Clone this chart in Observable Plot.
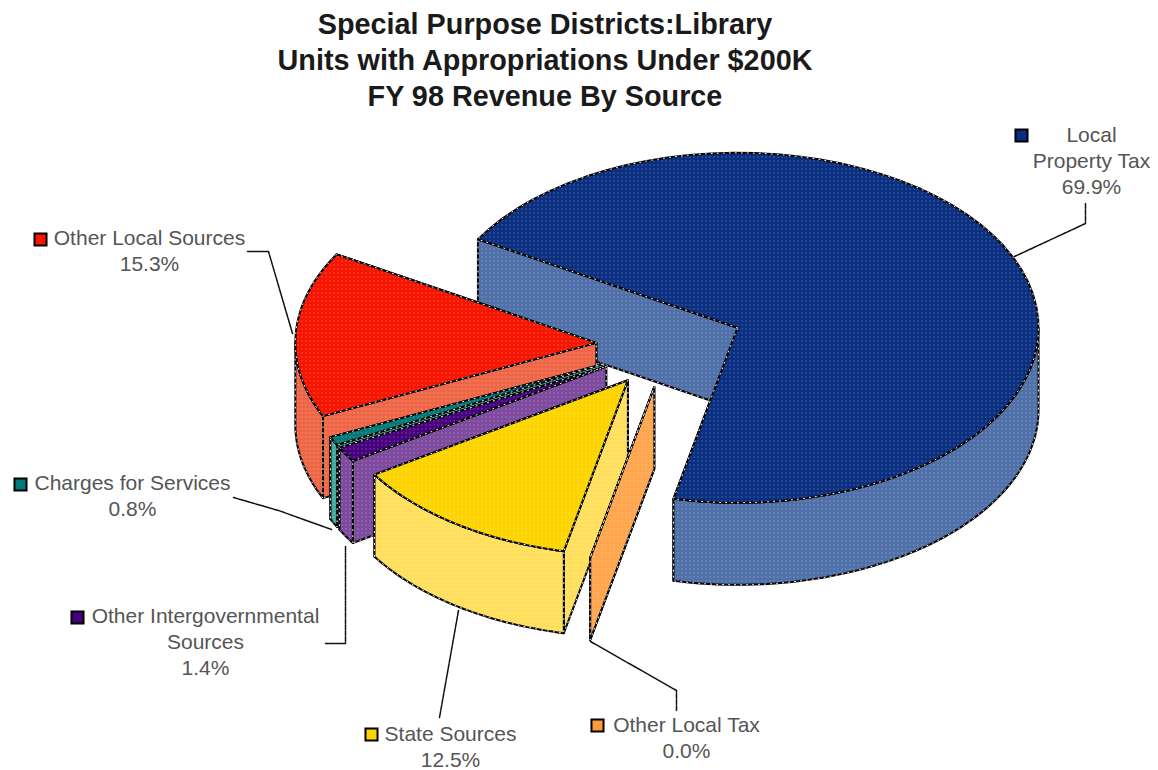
<!DOCTYPE html>
<html>
<head>
<meta charset="utf-8">
<script src="https://cdn.jsdelivr.net/npm/d3@7"></script>
<script src="https://cdn.jsdelivr.net/npm/@observablehq/plot@0.6"></script>
<style>
  html, body { margin: 0; padding: 0; background: #fff; overflow: hidden; }
  #title { width: 1090px; height: 115px; padding-top: 6px; box-sizing: border-box; text-align: center;
           font: bold 28.8px/36px "Liberation Sans", Arial, sans-serif; color: #1a1a1a; }
  #chart svg { display: block; }
</style>
</head>
<body>
<div id="title">Special Purpose Districts:Library<br>Units with Appropriations Under $200K<br>FY 98 Revenue By Source</div>
<div id="chart"></div>
<script>
// Revenue sources, clockwise from the start of the first slice
const sources = ["Local Property Tax", "Other Local Tax", "State Sources",
                 "Other Intergovernmental Sources", "Charges for Services", "Other Local Sources"];
const shares = [69.9, 0.0, 12.5, 1.4, 0.8, 15.3];
const labelLines = [["Local", "Property Tax"], ["Other Local Tax"], ["State Sources"],
                    ["Other Intergovernmental", "Sources"], ["Charges for Services"], ["Other Local Sources"]];
const topColors = ["#0a2f80", "#ff9a3c", "#fdd400", "#47007e", "#007a78", "#f81500"];
const wallColors = ["#4f70a8", "#ffa64f", "#ffdf5c", "#7d4a9e", "#3fa89c", "#ef6647"];

// Label block centre and swatch position for each source
const labelCentres = [[1091, 135], [686, 725], [450, 734], [205, 616], [132, 483], [149, 238]];
const swatchSpots = [[1021, 135], [597, 725], [371, 734], [77, 617], [20, 484], [40, 239]];
const leaderPaths = [
  [[1085, 203], [1085, 223], [1014, 256]],
  [[590, 641], [676, 690], [676, 711]],
  [[458, 610], [439, 717]],
  [[345, 546], [345, 643], [325, 643]],
  [[233, 497], [278, 510], [331, 529]],
  [[247, 251], [268, 251], [292, 333]]
];

// Oblique pie projection
const pie = {cx: 669.5, cy: 344.5, rx: 301, ry: 175, depth: 82, explode: 0.245, startDeg: -59.6};
const rad = d => d * Math.PI / 180;
const total = d3.sum(shares);
let running = pie.startDeg;
const slices = sources.map((name, i) => {
  const a0 = running;
  const a1 = a0 + shares[i] / total * 360;
  running = a1;
  const mid = rad((a0 + a1) / 2);
  const ax = pie.cx + pie.explode * pie.rx * Math.sin(mid);
  const ay = pie.cy - pie.explode * pie.ry * Math.cos(mid);
  const rim = (deg, drop = 0) => ({
    x: ax + pie.rx * Math.sin(rad(deg)),
    y: ay - pie.ry * Math.cos(rad(deg)) + drop
  });
  const arc = (from, to, drop = 0) => d3.range(0, 61).map(k => rim(from + (to - from) * k / 60, drop));
  const apex = {x: ax, y: ay}, apexLow = {x: ax, y: ay + pie.depth};
  const faces = [
    {points: [apex, rim(a1), rim(a1, pie.depth), apexLow], fill: wallColors[i]},
    {points: [apex, rim(a0), rim(a0, pie.depth), apexLow], fill: wallColors[i]}
  ];
  // Only the part of the rim that faces the viewer gets an outer wall
  const from = Math.max(a0, 90), to = Math.min(a1, 270);
  if (to > from) faces.push({points: [...arc(from, to), ...arc(from, to, pie.depth).reverse()], fill: wallColors[i]});
  faces.push({points: [apex, ...arc(a0, a1)], fill: topColors[i]});
  return {name, faces};
});

// Back to front: the large rear slice, then the front slices from left to right
const paintOrder = [0, 5, 4, 3, 2, 1];
const faceMarks = paintOrder.flatMap(i => slices[i].faces.flatMap(f => [
  Plot.line(f.points, {x: "x", y: "y", curve: "linear-closed", fill: f.fill, stroke: "#000", strokeWidth: 2, strokeLinejoin: "round"}),
  Plot.line(f.points, {x: "x", y: "y", curve: "linear-closed", fill: "url(#dither)", stroke: "#fff", strokeWidth: 1, strokeDasharray: "1 5"})
]));

const leaderMarks = leaderPaths.map(path =>
  Plot.line(path.map(([x, y]) => ({x, y})), {x: "x", y: "y", stroke: "#111", strokeWidth: 1.5, strokeDasharray: "5 1"}));

const textRows = sources.flatMap((name, i) => {
  const lines = [...labelLines[i], `${shares[i].toFixed(1)}%`];
  return lines.map((text, k) => ({text, x: labelCentres[i][0], y: labelCentres[i][1] + k * 26}));
});
const swatches = sources.map((name, i) => ({x: swatchSpots[i][0], y: swatchSpots[i][1], fill: topColors[i]}));

const titleHeight = 115;
const chart = Plot.plot({
  width: 1158,
  height: 770 - titleHeight,
  margin: 0,
  x: {domain: [0, 1158], range: [0, 1158], axis: null},
  y: {domain: [titleHeight, 770], range: [0, 770 - titleHeight], axis: null},
  color: {type: "identity"},
  marks: [
    ...faceMarks,
    ...leaderMarks,
    Plot.dot(swatches, {x: "x", y: "y", fill: "fill", stroke: "#000", strokeWidth: 2, symbol: "square", r: 6.8}),
    Plot.text(textRows, {x: "x", y: "y", text: "text", textAnchor: "middle", lineAnchor: "middle",
                         fontSize: 21, fontFamily: "Liberation Sans, Arial, sans-serif", fill: "#555"})
  ]
});

// Fine halftone used over the filled faces
const defs = d3.create("svg:defs");
const pattern = defs.append("pattern").attr("id", "dither").attr("width", 4).attr("height", 4)
  .attr("patternUnits", "userSpaceOnUse");
pattern.append("rect").attr("x", 1).attr("y", 1).attr("width", 1).attr("height", 1).attr("fill", "#fff").attr("fill-opacity", 0.45);
chart.insertBefore(defs.node(), chart.firstChild);
document.getElementById("chart").appendChild(chart);
</script>
</body>
</html>
